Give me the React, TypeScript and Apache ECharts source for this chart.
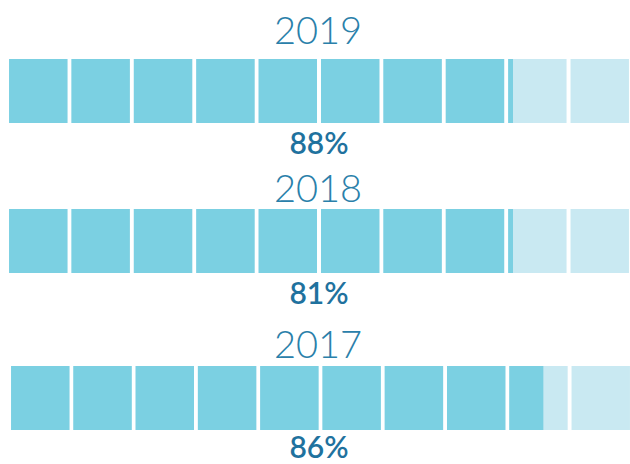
import React, { useEffect, useRef } from "react";
import * as echarts from "echarts";

const years = ["2019", "2018", "2017"];
const fillValues = [81.3, 81.3, 86];
const percentLabels = ["88%", "81%", "86%"];
const totalValue = 100;
const squareCount = 10;

const FILL = "#7bd0e2";
const LIGHT = "#c9e9f2";
const YEAR_COLOR = "#2a80aa";
const PCT_COLOR = "#1f729e";

const gridTops = [59, 209, 366];
const gridLefts = [9, 9, 11];
const yearY = [29, 187, 343];
const labelY = [142, 292, 446];

export default function App() {
  const ref = useRef<HTMLDivElement>(null);
  useEffect(() => {
    if (!ref.current) return;
    const chart = echarts.init(ref.current, undefined, { renderer: "svg" });
    const grids = years.map((_, i) => ({
      left: gridLefts[i],
      top: gridTops[i],
      width: 620,
      height: 64,
    }));
    const xAxes = years.map((_, i) => ({
      type: "value",
      gridIndex: i,
      min: 0,
      max: totalValue,
      show: false,
    }));
    const yAxes = years.map((y, i) => ({
      type: "category",
      gridIndex: i,
      data: [y],
      show: false,
    }));
    const series: any[] = [];
    years.forEach((_, i) => {
      series.push({
        type: "pictorialBar",
        xAxisIndex: i,
        yAxisIndex: i,
        symbol: "rect",
        symbolRepeat: squareCount,
        symbolSize: [58.5, 64],
        symbolBoundingData: totalValue,
        itemStyle: { color: LIGHT },
        data: [totalValue],
        z: 1,
        silent: true,
      });
      series.push({
        type: "pictorialBar",
        xAxisIndex: i,
        yAxisIndex: i,
        symbol: "rect",
        symbolRepeat: squareCount,
        symbolSize: [58.5, 64],
        symbolBoundingData: totalValue,
        symbolClip: true,
        itemStyle: { color: FILL },
        data: [fillValues[i]],
        z: 2,
        silent: true,
      });
    });
    const graphic: any[] = [];
    years.forEach((y, i) => {
      graphic.push({
        type: "text",
        x: 318,
        y: yearY[i],
        style: {
          text: y,
          align: "center",
          verticalAlign: "middle",
          fontFamily: "Lato",
          fontWeight: 300,
          fontSize: 38,
          fill: YEAR_COLOR,
        },
      });
      graphic.push({
        type: "text",
        x: 319,
        y: labelY[i],
        style: {
          text: percentLabels[i],
          align: "center",
          verticalAlign: "middle",
          fontFamily: "Lato",
          fontWeight: 600,
          fontSize: 30,
          fill: PCT_COLOR,
        },
      });
    });
    chart.setOption({
      animation: false,
      grid: grids,
      xAxis: xAxes,
      yAxis: yAxes,
      series,
      graphic,
    });
    return () => chart.dispose();
  }, []);
  return (
    <div
      ref={ref}
      style={{ position: "fixed", left: 0, top: 0, width: 630, height: 464, background: "#fff" }}
    />
  );
}
